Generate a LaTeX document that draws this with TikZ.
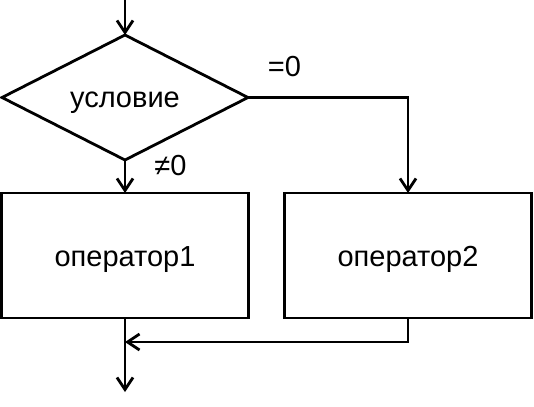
\documentclass[tikz,border=0pt]{standalone}
\usepackage{fontspec}
\setmainfont{Liberation Sans}
\usetikzlibrary{arrows.meta,shapes.geometric}
\begin{document}
\begin{tikzpicture}[x=1pt,y=-1pt,
  line width=2.8pt,
  txt/.style={font=\fontsize{29}{32}\selectfont},
  arr/.style={-{Straight Barb[length=12pt,width=16pt,line width=2.8pt]}},
  lbl/.style={txt, inner sep=0pt},
  box/.style={draw, txt, minimum width=247pt, minimum height=125pt, inner sep=0pt, outer sep=0pt, text height=21pt, text depth=0pt}]
\useasboundingbox (0,0) rectangle (534,406);
\coordinate (top) at (125,0);
\node[draw, diamond, txt, aspect=1.968, minimum width=246pt, minimum height=125pt, inner sep=0pt, outer sep=0pt, text height=20pt, text depth=0pt] (cond) at (125,97.5) {условие};
\node[box] (op1) at (125,255.5) {оператор1};
\node[box] (op2) at (408,255.5) {оператор2};
\node[lbl] (eq) at (284.5,67) {=0};
\node[lbl] (ne) at (170.5,166) {≠0};
\coordinate (corner) at (op2.north |- cond.east);
\coordinate (merge) at (125,342);
\coordinate (bend) at (op2.south |- merge);
\coordinate (out) at (125,392);
\draw[arr] (top) -- (cond.north);
\draw[arr] (cond.south) -- (op1.north);
\draw[arr] (cond.east) -- (corner) -- (op2.north);
\draw[arr] (op2.south) -- (bend) -- (merge);
\draw[arr] (op1.south) -- (out);
\end{tikzpicture}
\end{document}
